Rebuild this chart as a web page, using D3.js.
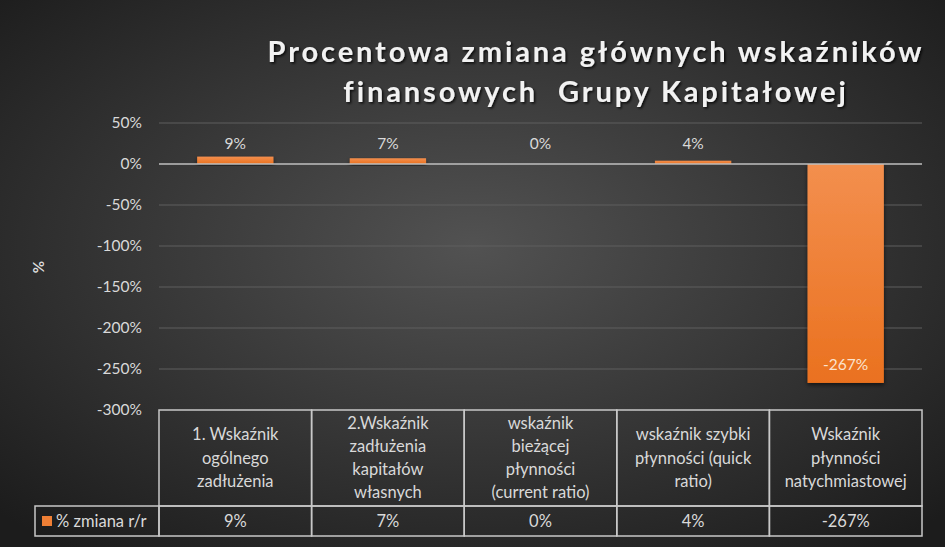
<!DOCTYPE html>
<html>
<head>
<meta charset="utf-8">
<script src="https://cdn.jsdelivr.net/npm/d3@7"></script>
<style>
  html, body { margin: 0; padding: 0; background: #2a2a2a; }
  svg { display: block; font-family: Lato, "Open Sans", sans-serif; }
</style>
</head>
<body>
<svg id="chart" width="945" height="547"></svg>
<script>
// data
const categories = [
  ['1. Wskaźnik', 'ogólnego', 'zadłużenia'],
  ['2.Wskaźnik', 'zadłużenia', 'kapitałów', 'własnych'],
  ['wskaźnik', 'bieżącej', 'płynności', '(current ratio)'],
  ['wskaźnik szybki', 'płynności (quick', 'ratio)'],
  ['Wskaźnik', 'płynności', 'natychmiastowej']
];
const values = [9, 7, 0, 4, -267];
const seriesName = '% zmiana r/r';
const yTicks = [50, 0, -50, -100, -150, -200, -250, -300];
const titleLines = ['Procentowa zmiana głównych wskaźników', 'finansowych  Grupy Kapitałowej'];

const svg = d3.select('#chart');
const W = 945, H = 547;

// plot area
const margin = {left: 159, right: 23, top: 123, bottom: 137};
const width = W - margin.left - margin.right;
const height = H - margin.top - margin.bottom;

const defs = svg.append('defs');

// background radial gradient
const bg = defs.append('radialGradient')
  .attr('id', 'bg')
  .attr('cx', '50%').attr('cy', '45%').attr('r', '70%');
bg.append('stop').attr('offset', '0%').attr('stop-color', '#525252');
bg.append('stop').attr('offset', '100%').attr('stop-color', '#1c1c1c');

const barGrad = defs.append('linearGradient')
  .attr('id', 'barGrad')
  .attr('x1', 0).attr('y1', 0).attr('x2', 0).attr('y2', 1);
barGrad.append('stop').attr('offset', '0%').attr('stop-color', '#f38f4e');
barGrad.append('stop').attr('offset', '100%').attr('stop-color', '#ea711f');

const shadow = defs.append('filter').attr('id', 'shadow')
  .attr('x', '-20%').attr('y', '-20%').attr('width', '140%').attr('height', '140%');
shadow.append('feDropShadow')
  .attr('dx', 0).attr('dy', 2).attr('stdDeviation', 2)
  .attr('flood-color', '#000').attr('flood-opacity', 0.6);

const tshadow = defs.append('filter').attr('id', 'tshadow');
tshadow.append('feDropShadow')
  .attr('dx', 1.5).attr('dy', 1.5).attr('stdDeviation', 1)
  .attr('flood-color', '#000').attr('flood-opacity', 0.8);

svg.append('rect').attr('width', W).attr('height', H).attr('fill', 'url(#bg)');

// title
svg.append('g').selectAll('text')
  .data(titleLines)
  .enter().append('text')
    .attr('x', 596)
    .attr('y', (d, i) => 62 + i * 40)
    .attr('text-anchor', 'middle')
    .attr('font-size', '29px')
    .attr('font-weight', 'bold')
    .attr('letter-spacing', '2.9px')
    .attr('fill', '#f2f2f2')
    .attr('filter', 'url(#tshadow)')
    .style('white-space', 'pre')
    .text(d => d);

const g = svg.append('g')
  .attr('transform', 'translate(' + margin.left + ',' + margin.top + ')');

const x = d3.scaleBand()
  .domain(d3.range(values.length))
  .range([0, width])
  .paddingInner(0)
  .paddingOuter(0);

const y = d3.scaleLinear()
  .domain([-300, 50])
  .range([height, 0]);

// gridlines
g.append('g')
  .selectAll('line')
  .data(yTicks.filter(t => t !== 0 && t !== -300))
  .enter().append('line')
    .attr('x1', 0).attr('x2', width)
    .attr('y1', d => y(d)).attr('y2', d => y(d))
    .attr('stroke', '#5e5e5e')
    .attr('stroke-width', 1.2);

// y axis labels
const yAxis = g.append('g')
  .call(d3.axisLeft(y).tickValues(yTicks).tickFormat(d => d + '%').tickSize(0).tickPadding(17));
yAxis.select('.domain').remove();
yAxis.selectAll('text')
  .attr('font-family', 'Lato, "Open Sans", sans-serif')
  .attr('font-size', '15.5px')
  .attr('fill', '#d9d9d9');

// axis title
svg.append('text')
  .attr('transform', 'translate(44,267) rotate(-90)')
  .attr('text-anchor', 'middle')
  .attr('font-size', '15px')
  .attr('font-weight', 'bold')
  .attr('fill', '#d9d9d9')
  .text('%');

// bars
const barW = x.bandwidth() * 0.5;
g.append('g').selectAll('rect')
  .data(values)
  .enter().append('rect')
    .attr('x', (d, i) => x(i) + (x.bandwidth() - barW) / 2)
    .attr('y', d => y(Math.max(0, d)))
    .attr('width', barW)
    .attr('height', d => Math.abs(y(d) - y(0)))
    .attr('fill', 'url(#barGrad)')
    .attr('filter', 'url(#shadow)');

// zero line
g.append('line')
  .attr('x1', 0).attr('x2', width)
  .attr('y1', y(0)).attr('y2', y(0))
  .attr('stroke', '#bfbfbf')
  .attr('stroke-width', 1.5);

// bar labels (positive ones sit on one line above the zero axis)
g.append('g').selectAll('text')
  .data(values)
  .enter().append('text')
    .attr('x', (d, i) => x(i) + x.bandwidth() / 2)
    .attr('y', d => d >= 0 ? y(0) - 15 : y(d) - 13)
    .attr('text-anchor', 'middle')
    .attr('font-size', '15.5px')
    .attr('fill', d => d >= 0 ? '#d9d9d9' : '#fbe3d0')
    .text(d => d + '%');

// data table
const table = g.append('g').attr('transform', 'translate(0,' + height + ')');
const headH = 96, rowH = 30, legendLeft = 35 - margin.left;
const lineCol = '#c8c8c8';

// header cells
table.append('g').selectAll('rect')
  .data(categories)
  .enter().append('rect')
    .attr('x', (d, i) => x(i))
    .attr('y', 0)
    .attr('width', x.bandwidth())
    .attr('height', headH)
    .attr('fill', 'none')
    .attr('stroke', lineCol)
    .attr('stroke-width', 1.5);

// data row cells
table.append('rect')
  .attr('x', legendLeft).attr('y', headH)
  .attr('width', -legendLeft).attr('height', rowH)
  .attr('fill', 'none').attr('stroke', lineCol).attr('stroke-width', 1.5);
table.append('g').selectAll('rect')
  .data(values)
  .enter().append('rect')
    .attr('x', (d, i) => x(i))
    .attr('y', headH)
    .attr('width', x.bandwidth())
    .attr('height', rowH)
    .attr('fill', 'none')
    .attr('stroke', lineCol)
    .attr('stroke-width', 1.5);

// header text
const lineH = 23.3;
table.append('g').selectAll('text')
  .data(categories)
  .enter().append('text')
    .attr('text-anchor', 'middle')
    .attr('font-size', '16.5px')
    .attr('fill', '#d9d9d9')
    .each(function(d, i) {
      const t = d3.select(this);
      const y0 = headH / 2 - (d.length - 1) * lineH / 2 + 5.5;
      d.forEach((ln, j) => {
        t.append('tspan')
          .attr('x', x(i) + x.bandwidth() / 2)
          .attr('y', y0 + j * lineH)
          .text(ln);
      });
    });

// value text
table.append('g').selectAll('text')
  .data(values)
  .enter().append('text')
    .attr('x', (d, i) => x(i) + x.bandwidth() / 2)
    .attr('y', headH + rowH / 2 + 5.5)
    .attr('text-anchor', 'middle')
    .attr('font-size', '16.5px')
    .attr('fill', '#d9d9d9')
    .text(d => d + '%');

// legend key
table.append('rect')
  .attr('x', legendLeft + 7).attr('y', headH + 10)
  .attr('width', 10).attr('height', 10)
  .attr('fill', '#ef7f35');
table.append('text')
  .attr('x', legendLeft + 21)
  .attr('y', headH + rowH / 2 + 5.5)
  .attr('font-size', '16.5px')
  .attr('fill', '#d9d9d9')
  .text(seriesName);
</script>
</body>
</html>
